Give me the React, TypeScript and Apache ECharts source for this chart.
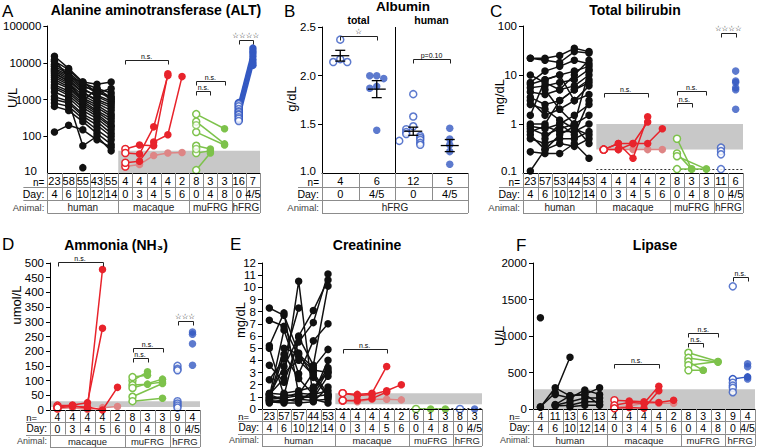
import React, { useEffect, useRef } from "react";
import * as echarts from "echarts";

type V = number | null;

const FONT = "Liberation Sans, Arial, sans-serif";
const STAR_FONT = "DejaVu Sans, sans-serif";
const C_BLACK = "#111111";
const C_RED = "#e8232b";
const C_PINK = "#de8585";
const C_GREEN = "#7dc24b";
const C_BLUE = "#3459c2";
const C_BAND = "#c8c8c8";
const C_TABLE = "#8c8c8c";

// ---------- shared table labels ----------
const DAY15 = ["4", "6", "10", "12", "14", "0", "3", "4", "5", "6", "0", "4", "8", "0", "4/5"];
const ANIMALS4 = ["human", "macaque", "muFRG", "hFRG"];
const SPANS4 = [5, 5, 3, 2];
const DAY10 = ["0", "3", "4", "5", "6", "0", "4", "8", "0", "4/5"];
const ANIMALS3 = ["macaque", "muFRG", "hFRG"];
const SPANS3 = [5, 3, 2];

// ---------- A: ALT (U/L, log) ----------
const A_N = [23, 58, 55, 43, 55, 4, 4, 4, 4, 2, 8, 3, 3, 16, 7];
const A_HUMAN: V[][] = [
  [15000, 7000, 3000, 2600, 3000],
  [11000, 6500, 2800, 2000, 1500],
  [9000, 5500, 2500, 1500, 1200],
  [8000, 5000, 2200, 1800, 1000],
  [7000, 4500, 2000, 1200, 800],
  [6500, 4000, 1800, 1300, 900],
  [6000, 3500, 1600, 900, 600],
  [5000, 3200, 1500, 1000, 700],
  [4500, 2800, 1300, 800, 500],
  [4000, 2500, 1100, 700, 400],
  [3500, 2200, 1000, 600, 350],
  [3000, 2000, 900, 500, 300],
  [2500, 1700, 800, 450, 250],
  [2200, 1500, 700, 400, 200],
  [2000, 1300, 600, 350, 180],
  [1600, 1100, 500, 300, 150],
  [1200, 900, 400, 250, 120],
  [1000, 800, 350, 200, 100],
  [800, 650, 300, 150, 80],
  [650, 500, 250, 120, 60],
  [130, 200, 150, 80, 50],
  [null, 900, 55, 100, 40],
  [null, null, 14, null, null],
  [5500, 3000, 900, 2000, 1100],
  [12000, 4000, 3000, 1500, 2000],
];
const A_MAC: V[][] = [
  [45, 58, 55, 5000, null],
  [35, 33, 180, 4500, null],
  [19, 21, 70, 110, 4200],
];
const A_MAC_FADED: V[][] = [[15, 17, 30, 35, 36]];
const A_MU: V[][] = [
  [400, null, 160],
  [250, null, 62],
  [130, null, 58],
  [55, 45, null],
  [35, 40, null],
  [12, 35, null],
];
const A_MU_OPEN_D0 = [200, 45];
const A_HFRG: V[][] = [
  [800, 25000], [700, 21000], [600, 18000], [500, 15000],
  [420, 12000], [350, 10000], [280, 8500],
];
const A_HFRG_OPEN_D0 = [750, 650, 550, 480, 450, 400, 380, 330, 300, 260];

// ---------- B: Albumin (g/dL) ----------
const B_N = [4, 6, 12, 5];
const B_DAY = ["0", "4/5", "0", "4/5"];
const B_TOTAL_D0 = [2.37, 2.17, 2.14, 2.14];
const B_TOTAL_D45 = [2.0, 2.0, 1.97, 1.89, 1.87, 1.44];
const B_HUMAN_D0 = [1.81, 1.58, 1.48, 1.45, 1.42, 1.4, 1.38, 1.36, 1.34, 1.33, 1.31, 1.29];
const B_HUMAN_D45 = [1.46, 1.35, 1.29, 1.22, 1.09];

// ---------- C: Total bilirubin (mg/dL, log) ----------
const C_N = [23, 57, 53, 44, 53, 4, 4, 4, 4, 2, 8, 3, 3, 11, 6];
const C_HUMAN: V[][] = [
  [22, 22, 25, 35, 30],
  [22, 20, 18, 30, 28],
  [7, 12, 15, 20, 17],
  [6.5, 8, 10, 12, 15],
  [5.5, 6, 7, 8, 13],
  [4.5, 4, 5, 6, 10],
  [3.5, 2.5, 3, 5, 8],
  [3, 1.5, 2, 3, 6],
  [1.5, 8, 10, 3, 4],
  [1, 1, 3, 5, 7],
  [0.9, 0.8, 1, 1.5, 2.5],
  [0.8, 0.6, 0.8, 1, 1.5],
  [0.7, 0.9, 0.7, 0.7, 1],
  [0.5, 0.4, 0.5, 0.5, 0.7],
  [0.6, 0.3, 0.4, 0.35, 0.5],
  [0.27, 0.25, 0.25, 0.4, 0.2],
  [0.11, 0.3, 0.6, 0.9, 0.4],
  [null, 5, 2, 1, 12],
  [2.5, 2, 1.2, 0.8, 0.6],
  [10, 7, 5, 10, 20],
  [null, 0.5, 1, 0.6, 3],
];
const C_MAC: V[][] = [
  [0.3, 0.4, 0.4, 0.4, 0.8],
  [0.3, 0.3, 0.4, 1.1, null],
  [0.3, 0.4, 0.2, 1.4, null],
];
const C_MAC_FADED: V[][] = [[0.3, 0.3, 0.3, 0.3, 0.3]];
const C_MU: V[][] = [
  [0.5, 0.12, null],
  [0.25, 0.12, null],
  [0.22, null, 0.12],
  [0.12, 0.12, 0.12],
];
const C_HFRG_OPEN_D0 = [0.33, 0.28, 0.24, 0.12];
const C_HFRG_D45 = [12, 7.5, 7, 5.5, 5, 2];

// ---------- D: Ammonia (umol/L) ----------
const D_N = [4, 4, 4, 4, 2, 8, 3, 3, 9, 4];
const D_MAC: V[][] = [
  [15, 15, 5, 478, null],
  [10, 17, 25, 278, null],
  [8, 12, 10, 0, 77],
];
const D_MAC_FADED: V[][] = [[5, 8, 2, 8, 12]];
const D_MU: V[][] = [
  [100, 130, null],
  [112, 118, null],
  [85, 88, 95],
  [75, null, 105],
  [45, null, 90],
  [30, null, 40],
];
const D_HFRG_OPEN_D0 = [150, 140, 135, 30, 22, 15, 8];
const D_HFRG_D45 = [265, 258, 225, 152];

// ---------- E: Creatinine (mg/dL) ----------
const E_N = [23, 57, 57, 44, 53, 4, 4, 4, 4, 2, 6, 1, 3, 8, 3];
const E_HUMAN: V[][] = [
  [8.3, 7.7, 4.6, 2.6, 1.0],
  [7.3, 6.8, 4.3, 3.2, 3.0],
  [5.2, 7.9, 1.2, 3.0, 1.2],
  [5.0, 1.1, 6.0, 8.1, 10.6],
  [3.6, 2.2, 5.5, 7.1, 11.1],
  [2.4, 4.1, 8.3, null, null],
  [1.2, 2.5, 10.5, 0.8, 0.5],
  [1.0, 6.5, 2.9, 5.6, 7.0],
  [1.1, 3.5, 5.9, 3.6, 10.1],
  [0.9, 5.0, 4.5, 3.4, 4.9],
  [0.7, 4.5, 2.5, 1.2, 4.0],
  [0.5, 0.8, 0.6, 1.5, 3.4],
  [1.3, 1.2, 1.0, 1.1, 3.2],
  [0.8, 0.9, 1.1, 0.9, 2.7],
  [0.6, 0.5, 0.5, 0.6, 1.8],
  [0.9, 1.0, 1.3, 1.2, 1.5],
  [1.2, 0.7, 0.8, 0.7, 0.8],
  [null, 3.0, 4.0, 2.8, 1.0],
  [null, 1.3, 1.5, 1.8, 3.0],
  [0.7, 0.6, 0.9, 1.0, 1.2],
];
const E_MAC: V[][] = [
  [1.3, 1.2, 1.3, 3.5, null],
  [1.3, 1.1, 1.2, 1.5, 2.0],
  [0.7, 0.7, 0.85, 1.4, null],
];
const E_MAC_FADED: V[][] = [[0.7, 0.6, 0.8, 0.8, 0.75]];
const E_MU: V[][] = [[0, 0, 0]];
const E_HFRG_OPEN_D0 = [0];
const E_HFRG_D45 = [0];

// ---------- F: Lipase (U/L) ----------
const F_N = [4, 11, 13, 6, 13, 4, 4, 4, 4, 2, 8, 3, 3, 9, 4];
const F_HUMAN: V[][] = [
  [30, 220, 710, null, null],
  [25, 290, 180, 200, 290],
  [null, 200, 150, 260, 200],
  [null, 50, 100, 150, 150],
  [null, 40, 50, 100, 100],
  [null, null, 30, 50, 50],
  [null, 60, 180, 200, 60],
  [1250, null, null, null, null],
];
const F_MAC: V[][] = [
  [120, 110, 100, 90, 120],
  [50, 90, 80, 310, null],
  [10, 20, 10, 250, null],
];
const F_MAC_FADED: V[][] = [[20, 40, 80, 80, 80]];
const F_MU: V[][] = [
  [770, null, 650],
  [700, null, 640],
  [650, 530, null],
  [600, null, 650],
  [530, 530, null],
];
const F_HFRG: V[][] = [[410, 440]];
const F_HFRG_OPEN_D0 = [1680, 360, 320, 290, 230];
const F_HFRG_D45 = [620, 580, 410];

// ---------- annotations (data coordinates) ----------
const SIG = [
  { g: 0, a: 5, b: 8, y: 12000, t: "n.s." },
  { g: 0, a: 10, b: 11, y: 1750, t: "n.s." },
  { g: 0, a: 10, b: 12, y: 3250, t: "n.s." },
  { g: 0, a: 13, b: 14, y: 42000, t: "☆☆☆☆" },
  { g: 1, a: 0, b: 1, y: 2.41, t: "☆" },
  { g: 1, a: 2, b: 3, y: 2.17, t: "p=0.10" },
  { g: 2, a: 5, b: 8, y: 4.3, t: "n.s." },
  { g: 2, a: 10, b: 11, y: 2.7, t: "n.s." },
  { g: 2, a: 10, b: 12, y: 4.8, t: "n.s." },
  { g: 2, a: 13, b: 14, y: 71, t: "☆☆☆☆" },
  { g: 3, a: 0, b: 3, y: 503, t: "n.s." },
  { g: 3, a: 5, b: 6, y: 176, t: "n.s." },
  { g: 3, a: 5, b: 7, y: 212, t: "n.s." },
  { g: 3, a: 8, b: 9, y: 304, t: "☆☆☆" },
  { g: 4, a: 5, b: 8, y: 4.93, t: "n.s." },
  { g: 5, a: 5, b: 8, y: 616, t: "n.s." },
  { g: 5, a: 10, b: 11, y: 908, t: "n.s." },
  { g: 5, a: 10, b: 12, y: 1045, t: "n.s." },
  { g: 5, a: 13, b: 14, y: 1804, t: "n.s." },
];
// reference ranges [grid, fromCat, toCat, low, high]
const BANDS = [
  [0, 5, 14, 10, 40],
  [2, 5, 14, 0.3, 1],
  [3, 0, 9, 10, 30],
  [4, 5, 14, 0.4, 1.3],
  [5, 0, 14, 0, 270],
];
// detection limits [grid, fromCat, toCat, value]
const LIMITS = [
  [2, 5, 14, 0.12],
  [4, 5, 14, 0.08],
];
// lowest y tick labels of the upper panels (drawn slightly raised)
const MIN_LABELS = ["10", "1.0", "0.1"];

// ---------- layout ----------
const LAYOUT = [
  { left: 43, top: 26, width: 217, height: 147 },
  { left: 322, top: 27, width: 146, height: 146 },
  { left: 523, top: 26, width: 220, height: 147 },
  { left: 50, top: 263, width: 150, height: 147 },
  { left: 262, top: 263, width: 220, height: 146 },
  { left: 533, top: 263, width: 222, height: 146 },
];
const NCAT = [15, 4, 15, 10, 15, 15];
const Y_MIN = [10, 1, 0.1, 0, 0, 0];
const LABEL_FS = 11.5;

function lineSeries(gi: number, offset: number, lines: V[][], color: string, openFirst: boolean, openColor?: string, z = 3) {
  const N = NCAT[gi];
  return lines.map((vals) => {
    const data: any[] = Array(N).fill("-");
    vals.forEach((v, k) => {
      if (v === null) return;
      data[offset + k] =
        openFirst && k === 0
          ? { value: v, itemStyle: { color: "#fff", borderColor: openColor || color, borderWidth: 1.5 }, symbolSize: 7 }
          : v;
    });
    return {
      type: "line", xAxisIndex: gi, yAxisIndex: gi, data, connectNulls: true,
      symbol: "circle", symbolSize: 7.5, showSymbol: true, showAllSymbol: true,
      lineStyle: { color, width: 1.5 }, itemStyle: { color, borderColor: color, borderWidth: 0 },
      z, silent: true, animation: false,
    };
  });
}

function pointSeries(gi: number, idx: number, vals: number[], color: string, open: boolean, z = 4, offsets?: number[]) {
  return {
    type: "scatter", xAxisIndex: gi, yAxisIndex: gi,
    data: vals.map((v, i) => (offsets ? { value: [idx, v], symbolOffset: [offsets[i], 0] } : [idx, v])),
    symbol: "circle", symbolSize: open ? 7 : 7.5,
    itemStyle: open ? { color: "#fff", borderColor: color, borderWidth: 1.5 } : { color, borderWidth: 0 },
    z, silent: true, animation: false,
  };
}

function jitter(vals: number[], tol: number, step: number) {
  return vals.map((v, i) => {
    let k = 0;
    for (let j = 0; j < i; j++) if (Math.abs(vals[j] - v) < tol) k++;
    return k === 0 ? 0 : (k % 2 === 1 ? -1 : 1) * Math.ceil(k / 2) * step;
  });
}
const mean = (a: number[]) => a.reduce((s, v) => s + v, 0) / a.length;
const sem = (a: number[]) => {
  const m = mean(a);
  const sd = Math.sqrt(a.reduce((s, v) => s + (v - m) * (v - m), 0) / (a.length - 1));
  return sd / Math.sqrt(a.length);
};

function buildOption() {
  const grids = LAYOUT.map((l) => ({ ...l, containLabel: false }));
  const xAxes = LAYOUT.map((_, gi) => ({
    gridIndex: gi, type: "category",
    data: Array.from({ length: NCAT[gi] }, (_, i) => "c" + i),
    axisLine: { show: true, lineStyle: { color: "#000", width: 1 } },
    axisTick: { show: false }, axisLabel: { show: false }, splitLine: { show: false }, z: 5,
  }));
  const plainFmt = (v: number) => String(+v.toPrecision(6));
  const lab = (fmt: (v: number) => string, showMin = true) => ({
    color: "#000", fontSize: LABEL_FS, margin: 6, fontFamily: FONT, formatter: fmt, showMinLabel: showMin,
  });
  const yBase = (gi: number, extra: any) => ({
    gridIndex: gi,
    axisLine: { show: true, lineStyle: { color: "#000", width: 1 } },
    axisTick: { show: true, length: 4, lineStyle: { color: "#000" } },
    splitLine: { show: false },
    axisLabel: lab(plainFmt),
    z: 5,
    ...extra,
  });
  const yAxes = [
    yBase(0, { type: "log", logBase: 10, min: 10, max: 100000, axisLabel: lab(plainFmt, false) }),
    yBase(1, { type: "value", min: 1, max: 2.5, interval: 0.5, axisLabel: lab((v: number) => v.toFixed(1), false) }),
    yBase(2, { type: "log", logBase: 10, min: 0.1, max: 100, axisLabel: lab(plainFmt, false) }),
    yBase(3, { type: "value", min: 0, max: 500, interval: 50 }),
    yBase(4, { type: "value", min: 0, max: 12, interval: 1 }),
    yBase(5, { type: "value", min: 0, max: 2000, interval: 500 }),
  ];

  const series: any[] = [];
  // A
  series.push(...lineSeries(0, 0, A_HUMAN, C_BLACK, false, undefined, 2));
  series.push(...lineSeries(0, 5, A_MAC_FADED, C_PINK, true, C_RED, 3));
  series.push(...lineSeries(0, 5, A_MAC, C_RED, true, undefined, 4));
  series.push(...lineSeries(0, 10, A_MU, C_GREEN, true, undefined, 3));
  series.push(pointSeries(0, 10, A_MU_OPEN_D0, C_GREEN, true));
  series.push(...lineSeries(0, 13, A_HFRG, C_BLUE, true, undefined, 3));
  series.push(pointSeries(0, 13, A_HFRG_OPEN_D0, C_BLUE, true));
  // B
  series.push(pointSeries(1, 0, B_TOTAL_D0, C_BLUE, true, 4, jitter(B_TOTAL_D0, 0.05, 7)));
  series.push(pointSeries(1, 1, B_TOTAL_D45, C_BLUE, false, 4, jitter(B_TOTAL_D45, 0.05, 7)));
  series.push(pointSeries(1, 2, B_HUMAN_D0, C_BLUE, true, 4, jitter(B_HUMAN_D0, 0.05, 7)));
  series.push(pointSeries(1, 3, B_HUMAN_D45, C_BLUE, false, 4, jitter(B_HUMAN_D45, 0.05, 7)));
  const bGroups = [B_TOTAL_D0, B_TOTAL_D45, B_HUMAN_D0, B_HUMAN_D45];
  series.push({
    type: "custom", xAxisIndex: 1, yAxisIndex: 1, z: 6, silent: true, animation: false,
    data: bGroups.map((g, i) => [i, mean(g), sem(g)]),
    renderItem: (_p: any, api: any) => {
      const x = api.value(0), m = api.value(1), s = api.value(2);
      const c = api.coord([x, m]), hi = api.coord([x, m + s]), lo = api.coord([x, m - s]);
      const st = { stroke: "#000", lineWidth: 1.3 };
      return {
        type: "group",
        children: [
          { type: "line", shape: { x1: c[0] - 9, y1: c[1], x2: c[0] + 9, y2: c[1] }, style: st },
          { type: "line", shape: { x1: c[0], y1: hi[1], x2: c[0], y2: lo[1] }, style: st },
          { type: "line", shape: { x1: c[0] - 5, y1: hi[1], x2: c[0] + 5, y2: hi[1] }, style: st },
          { type: "line", shape: { x1: c[0] - 5, y1: lo[1], x2: c[0] + 5, y2: lo[1] }, style: st },
        ],
      };
    },
  });
  // C
  series.push(...lineSeries(2, 0, C_HUMAN, C_BLACK, false, undefined, 2));
  series.push(...lineSeries(2, 5, C_MAC_FADED, C_PINK, true, C_RED, 3));
  series.push(...lineSeries(2, 5, C_MAC, C_RED, true, undefined, 4));
  series.push(...lineSeries(2, 10, C_MU, C_GREEN, true, undefined, 3));
  series.push(pointSeries(2, 13, C_HFRG_OPEN_D0, C_BLUE, true));
  series.push(pointSeries(2, 14, C_HFRG_D45, C_BLUE, false));
  // D
  series.push(...lineSeries(3, 0, D_MAC_FADED, C_PINK, true, C_RED, 3));
  series.push(...lineSeries(3, 0, D_MAC, C_RED, true, undefined, 4));
  series.push(...lineSeries(3, 5, D_MU, C_GREEN, true, undefined, 3));
  series.push(pointSeries(3, 8, D_HFRG_OPEN_D0, C_BLUE, true));
  series.push(pointSeries(3, 9, D_HFRG_D45, C_BLUE, false));
  // E
  series.push(...lineSeries(4, 0, E_HUMAN, C_BLACK, false, undefined, 2));
  series.push(...lineSeries(4, 5, E_MAC_FADED, C_PINK, true, C_RED, 3));
  series.push(...lineSeries(4, 5, E_MAC, C_RED, true, undefined, 4));
  series.push(...lineSeries(4, 10, E_MU, C_GREEN, true, undefined, 3));
  series.push(pointSeries(4, 13, E_HFRG_OPEN_D0, C_BLUE, true));
  series.push(pointSeries(4, 14, E_HFRG_D45, C_BLUE, false));
  // F
  series.push(...lineSeries(5, 0, F_HUMAN, C_BLACK, false, undefined, 2));
  series.push(...lineSeries(5, 5, F_MAC_FADED, C_PINK, true, C_RED, 3));
  series.push(...lineSeries(5, 5, F_MAC, C_RED, true, undefined, 4));
  series.push(...lineSeries(5, 10, F_MU, C_GREEN, true, undefined, 3));
  series.push(...lineSeries(5, 13, F_HFRG, C_BLUE, true, undefined, 3));
  series.push(pointSeries(5, 13, F_HFRG_OPEN_D0, C_BLUE, true));
  series.push(pointSeries(5, 14, F_HFRG_D45, C_BLUE, false));

  return {
    animation: false,
    backgroundColor: "#ffffff",
    textStyle: { fontFamily: FONT },
    grid: grids,
    xAxis: xAxes,
    yAxis: yAxes,
    series,
  };
}

function txt(x: number, y: number, text: string, size: number, o: any = {}) {
  return {
    type: "text", x, y, z: 20, silent: true, rotation: o.rotation || 0,
    style: {
      text, fill: o.fill || "#000", fontSize: size, fontFamily: o.family || FONT,
      fontWeight: o.weight || "normal",
      textAlign: o.align || "center", align: o.align || "center",
      textVerticalAlign: o.valign || "middle", verticalAlign: o.valign || "middle",
    },
  };
}

function buildGraphics(chart: any) {
  const els: any[] = [];
  const px = (gi: number, x: number, y: number) => chart.convertToPixel({ gridIndex: gi }, [x, y]) as number[];
  const colX = (gi: number, i: number) => px(gi, i, Y_MIN[gi])[0];
  const cr = (v: number) => Math.round(v) + 0.5;
  const ln = (x1: number, y1: number, x2: number, y2: number, stroke = C_TABLE, z = 20, dash?: number[]) =>
    els.push({ type: "line", z, silent: true, shape: { x1, y1, x2, y2 }, style: { stroke, lineWidth: 1, lineDash: dash } });

  // bands
  BANDS.forEach(([gi, a, b, lo, hi]) => {
    const bw = colX(gi, 1) - colX(gi, 0);
    const p = px(gi, a, lo), q = px(gi, b, hi);
    const x0 = p[0] - bw / 2, x1 = q[0] + bw / 2;
    els.push({ type: "rect", z: 1, silent: true, shape: { x: x0, y: q[1], width: x1 - x0, height: p[1] - q[1] }, style: { fill: C_BAND } });
  });
  LIMITS.forEach(([gi, a, b, v]) => {
    const bw = colX(gi, 1) - colX(gi, 0);
    const p = px(gi, a, v), q = px(gi, b, v);
    ln(p[0] - bw / 2, cr(p[1]), q[0] + bw / 2, cr(p[1]), "#333", 1, [2, 2]);
  });

  // raised lowest tick labels of upper panels
  MIN_LABELS.forEach((t, gi) => {
    const p = px(gi, 0, Y_MIN[gi]);
    els.push(txt(LAYOUT[gi].left - 6, p[1] - 2.5, t, LABEL_FS, { align: "right" }));
  });

  // brackets
  SIG.forEach(({ g, a, b, y, t }) => {
    const p = px(g, a, y), q = px(g, b, y);
    const yy = cr(p[1]);
    els.push({
      type: "polyline", z: 20, silent: true,
      shape: { points: [[cr(p[0]), yy + 4], [cr(p[0]), yy], [cr(q[0]), yy], [cr(q[0]), yy + 4]] },
      style: { stroke: "#222", lineWidth: 1, fill: null },
    });
    const star = t.indexOf("☆") >= 0;
    els.push(txt((p[0] + q[0]) / 2, yy - 1, t, star ? 7.5 : 7, { valign: "bottom", family: star ? STAR_FONT : FONT }));
  });

  // tables
  const table = (gi: number, nArr: number[], dArr: string[], animals: string[], spans: number[], h: number[], fs: number, nGap: number, nDy: number) => {
    const N = NCAT[gi];
    const bw = colX(gi, 1) - colX(gi, 0);
    const L = colX(gi, 0) - bw / 2, R = colX(gi, N - 1) + bw / 2;
    const y0 = LAYOUT[gi].top + LAYOUT[gi].height;
    const y1 = y0 + h[0], y2 = y1 + h[1], y3 = y2 + h[2];
    ln(L - 24, cr(y1), R, cr(y1));
    ln(L - 24, cr(y2), R, cr(y2));
    ln(L, cr(y3), R, cr(y3));
    for (let i = 0; i <= N; i++) ln(cr(L + i * bw), y0, cr(L + i * bw), y2);
    ln(cr(L), y2, cr(L), y3);
    let acc = 0;
    spans.forEach((s, k) => {
      const xa = L + acc * bw;
      acc += s;
      const xb = L + acc * bw;
      ln(cr(xb), y2, cr(xb), y3);
      els.push(txt((xa + xb) / 2, (y2 + y3) / 2 + 0.5, animals[k], fs - 1, { fill: "#222" }));
    });
    for (let i = 0; i < N; i++) {
      const x = colX(gi, i);
      els.push(txt(x, (y0 + y1) / 2 + 0.5, String(nArr[i]), fs));
      els.push(txt(x, (y1 + y2) / 2 + 0.5, dArr[i], fs));
    }
    els.push(txt(L - nGap, (y0 + y1) / 2 + nDy, "n=", fs - 1, { align: "right" }));
    els.push(txt(L - 3, (y1 + y2) / 2 + 0.5, "Day:", fs - 0.5, { align: "right" }));
    els.push(txt(L - 3, (y2 + y3) / 2 + 0.5, "Animal:", fs - 1.5, { align: "right", fill: "#444" }));
  };
  const TOP_H = [14, 13, 13];
  const BOT_H = [12, 12.5, 12.5];
  table(0, A_N, DAY15, ANIMALS4, SPANS4, TOP_H, 11, 3, 2.5);
  table(1, B_N, B_DAY, ["hFRG"], [4], TOP_H, 11, 3, 2.5);
  table(2, C_N, DAY15, ANIMALS4, SPANS4, TOP_H, 11, 3, 2.5);
  table(3, D_N, DAY10, ANIMALS3, SPANS3, BOT_H, 10.5, 13, 1);
  table(4, E_N, DAY15, ANIMALS4, SPANS4, BOT_H, 10.5, 13, 1);
  table(5, F_N, DAY15, ANIMALS4, SPANS4, BOT_H, 10.5, 13, 1);

  // B divider and sub-headers
  const bMid = (colX(1, 1) + colX(1, 2)) / 2;
  ln(cr(bMid), LAYOUT[1].top, cr(bMid), LAYOUT[1].top + LAYOUT[1].height, "#000", 20);
  els.push(txt((colX(1, 0) + colX(1, 1)) / 2, 20, "total", 10.5, { weight: "bold" }));
  els.push(txt((colX(1, 2) + colX(1, 3)) / 2, 20, "human", 10.5, { weight: "bold" }));

  // panel letters
  const letters: [string, number, number][] = [["A", 2, 11], ["B", 284, 11], ["C", 490, 11], ["D", 2, 244], ["E", 230, 244], ["F", 516, 245]];
  letters.forEach(([t, x, y]) => els.push(txt(x, y, t, 17, { align: "left" })));
  // titles
  const titles: [string, number, number, number][] = [
    ["Alanine aminotransferase (ALT)", 156, 10, 14],
    ["Albumin", 403, 6, 13.5],
    ["Total bilirubin", 635, 10, 14],
    ["Ammonia (NH₃)", 116, 245, 14],
    ["Creatinine", 367, 245, 14],
    ["Lipase", 655, 245, 14],
  ];
  titles.forEach(([t, x, y, s]) => els.push(txt(x, y, t, s, { weight: "bold" })));
  // y names
  const ynames: [string, number, number][] = [
    ["U/L", 12, 98], ["g/dL", 291, 99], ["mg/dL", 499, 97],
    ["umol/L", 16, 305], ["mg/dL", 240, 320], ["U/L", 499, 336],
  ];
  ynames.forEach(([t, x, y]) => els.push(txt(x, y, t, 13, { rotation: Math.PI / 2 })));
  return els;
}

export default function App() {
  const ref = useRef<HTMLDivElement>(null);
  useEffect(() => {
    const chart = echarts.init(ref.current!, undefined, { renderer: "svg", width: 757, height: 448 });
    chart.setOption(buildOption() as any);
    chart.setOption({ graphic: buildGraphics(chart) } as any);
    return () => chart.dispose();
  }, []);
  return (
    <div
      ref={ref}
      style={{ position: "absolute", left: 0, top: 0, width: 757, height: 448, background: "#fff" }}
    />
  );
}
